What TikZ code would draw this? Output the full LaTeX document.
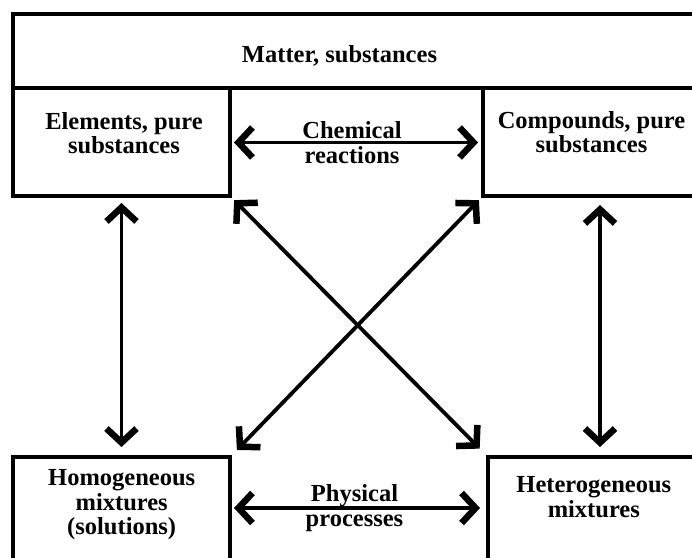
\documentclass[tikz,border=0pt]{standalone}
\usepackage{fontspec}
\setmainfont{Liberation Serif}
\usetikzlibrary{arrows.meta}
\begin{document}
\begin{tikzpicture}[x=1pt,y=-1pt,
  box/.style={draw,line width=4pt,rectangle,inner sep=0pt,anchor=north west},
  lbl/.style={font=\fontsize{24.5}{24.5}\selectfont\bfseries,align=center,inner sep=0pt},
  link/.style={line width=3.8pt,
    {Straight Barb[length=14pt,width=30pt,line width=6.5pt 0]}-{Straight Barb[length=14pt,width=30pt,line width=6.5pt 0]}}]
\useasboundingbox (0,0) rectangle (692,557);
\clip (0,0) rectangle (692,557);
% boxes
\node[box,minimum width=692pt,minimum height=74pt] (matter) at (11,12) {};
\node[box,minimum width=217pt,minimum height=108pt] (elem) at (11,86) {};
\node[box,minimum width=222pt,minimum height=108pt] (comp) at (481,86) {};
\node[box,minimum width=217pt,minimum height=150pt] (homog) at (11,455) {};
\node[box,minimum width=217pt,minimum height=150pt] (hetero) at (486,455) {};
% labels
\node[lbl,anchor=base] (matterlbl) at (339.5,62) {Matter, substances};
\node[lbl] (elemlbl) at (124,133) {Elements, pure\\substances};
\node[lbl] (complbl) at (591.5,132) {Compounds, pure\\substances};
\node[lbl] (chemlbl) at (352,142.5) {Chemical\\reactions};
\node[lbl] (physlbl) at (354.5,508) {Physical\\processes};
\node[lbl] (homoglbl) at (121.7,505) {Homogeneous\\mixtures\\(solutions)};
\node[lbl] (heterolbl) at (593.8,497) {Heterogeneous\\mixtures};
% connectors
\draw[link,shorten <=2pt,shorten >=3pt] (elem.east |- chemlbl) -- (comp.west |- chemlbl);
\draw[link,shorten <=2pt,shorten >=6pt] (homog.east |- physlbl) -- (hetero.west |- physlbl);
\draw[link,shorten <=5pt,shorten >=8pt] (elem.south) -- (elem.south |- homog.north);
\draw[link,shorten <=7pt,shorten >=8pt] ([xshift=6pt]comp.south) -- ([xshift=6pt]comp.south |- hetero.north);
\draw[link,shorten <=3pt,shorten >=9pt] (elem.south east) -- (hetero.north west);
\draw[link,shorten <=3pt,shorten >=7pt] (comp.south west) -- (homog.north east);
\end{tikzpicture}
\end{document}
